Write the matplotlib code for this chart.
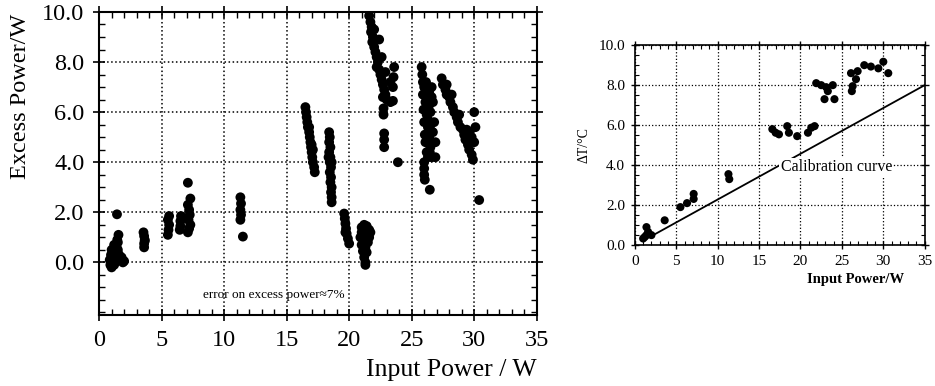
# -*- encoding: utf-8 -*-
import matplotlib
matplotlib.use('Agg')
import matplotlib.pyplot as plt
from matplotlib.ticker import MultipleLocator

plt.rcParams['font.family'] = ['Liberation Serif', 'DejaVu Serif']

# left panel: excess power vs input power (digitised clusters)
excess_x = [
    # ~1 W
    0.85, 0.9, 0.95, 1.0, 1.05, 1.1, 1.15, 1.2, 1.25, 1.3, 1.35, 1.4, 1.45, 1.5, 1.55, 1.6, 1.7, 1.8, 1.9, 2.0,
    1.0, 1.1, 1.3, 1.4, 1.5, 1.2, 1.43,
    # 3.6 W
    3.6, 3.6, 3.65, 3.6, 3.55, 3.65,
    # 5.5 / 6.5 / 7.2 W
    5.5, 5.55, 5.6, 5.5, 5.6,
    6.45, 6.5, 6.5, 6.55,
    7.1, 7.2, 7.3, 7.15, 7.25, 7.2, 7.1, 7.3, 7.1,
    # 11.3 W
    11.3, 11.35, 11.3, 11.35, 11.3, 11.5,
    # 16.5-17.3 W
    16.5, 16.55, 16.6, 16.65, 16.7, 16.8, 16.85, 16.9, 16.95, 17.0, 17.05, 17.1, 17.2, 17.25, 17.0, 17.1, 16.8,
    # 18.4 W
    18.4, 18.45, 18.4, 18.5, 18.4, 18.5, 18.45, 18.55, 18.45, 18.55, 18.5, 18.6, 18.55, 18.6, 18.6, 18.35, 18.6,
    # 19.6-20 W
    19.6, 19.65, 19.7, 19.75, 19.8, 19.9, 20.0, 19.7,
    # 21 W
    21.0, 21.2, 21.4, 21.6, 21.0, 21.3, 21.6, 20.9, 21.2, 21.5, 21.0, 21.3, 21.1, 21.4, 21.2, 21.3, 21.3, 21.7,
    # 21.6-23.6 W
    21.6, 21.7, 21.8, 21.75, 21.9, 21.85, 22.0, 22.1, 22.2, 22.3, 22.2, 22.4, 22.5, 22.6, 22.7, 22.8, 22.9, 23.0,
    22.7, 23.3, 23.5, 23.5, 23.55, 23.6, 23.3, 22.6, 22.4, 22.0, 22.9,
    22.75, 22.75, 22.8, 22.8, 22.8, 23.9,
    # 25.7-27 W
    25.8, 25.85, 25.9, 26.0, 25.9, 26.1, 25.95, 26.2, 26.0, 26.3, 26.05, 26.4, 26.1, 26.5, 26.2, 26.6, 26.9,
    26.4, 26.6, 26.7, 26.5, 26.8, 26.7, 26.9, 26.3, 26.0,
    26.2, 26.35, 26.3, 26.5, 26.45, 26.6, 26.25, 26.15,
    26.0, 26.0, 26.05, 26.45,
    # 27.4-30.4 W
    27.4, 27.5, 27.7, 27.8, 28.0, 28.1, 28.3, 28.4, 28.6, 28.7, 28.9, 29.1, 29.2, 29.3, 29.5, 29.6, 29.8, 29.9,
    29.6, 29.8, 30.1, 30.0, 29.4, 27.8, 28.2, 28.8, 30.0, 30.4,
]
excess_y = [
    0.1, -0.1, 0.3, -0.2, 0.2, 0.0, 0.4, -0.1, 0.5, 0.3, 0.7, 0.2, 0.9, 0.5, 1.1, 0.3, 0.1, 0.2, 0.0, 0.05,
    0.5, 0.2, 0.0, 0.6, 0.8, 0.7, 1.92,
    0.6, 0.75, 0.9, 1.05, 1.2, 0.85,
    1.1, 1.3, 1.5, 1.7, 1.85,
    1.3, 1.45, 1.65, 1.85,
    1.2, 1.35, 1.5, 1.7, 1.9, 2.1, 2.3, 2.55, 3.18,
    1.7, 1.9, 2.1, 2.35, 2.6, 1.03,
    6.2, 6.0, 5.8, 5.6, 5.4, 5.2, 5.0, 4.8, 4.6, 4.4, 4.2, 4.0, 3.8, 3.6, 4.7, 4.5, 5.4,
    5.2, 5.0, 4.8, 4.6, 4.4, 4.2, 4.0, 3.8, 3.6, 3.4, 3.2, 3.0, 2.8, 2.6, 2.4, 4.2, 4.0,
    1.95, 1.75, 1.55, 1.35, 1.15, 0.95, 0.75, 1.2,
    1.4, 1.5, 1.45, 1.3, 1.2, 1.2, 1.0, 1.0, 0.9, 0.8, 0.7, 0.6, 0.45, 0.4, 0.2, 0.0, -0.1, 1.2,
    9.85, 9.6, 9.4, 9.2, 9.0, 8.8, 8.6, 8.4, 8.2, 8.0, 7.8, 7.7, 7.5, 7.3, 7.1, 6.9, 6.7, 6.5,
    6.6, 6.4, 6.45, 7.0, 7.4, 7.8, 7.2, 8.2, 8.9, 9.3, 7.6,
    6.15, 5.9, 5.15, 4.9, 4.6, 4.0,
    7.8, 7.5, 7.2, 7.0, 6.7, 6.4, 6.1, 5.9, 5.6, 5.4, 5.1, 5.0, 4.8, 4.6, 4.4, 4.2, 4.2,
    6.8, 7.0, 6.4, 6.0, 5.6, 5.2, 4.8, 4.2, 4.0,
    6.6, 6.2, 5.7, 5.3, 4.4, 6.6, 4.9, 7.2,
    3.75, 3.5, 3.3, 2.9,
    7.35, 7.1, 6.9, 6.7, 6.6, 6.4, 6.2, 6.0, 5.8, 5.6, 5.4, 5.3, 5.1, 4.9, 4.7, 4.5, 4.3, 4.1,
    5.2, 5.0, 5.4, 4.8, 5.3, 7.1, 6.7, 5.9, 6.0, 2.49,
]

# right panel: temperature rise vs input power
dt_x = [1.0, 1.2, 1.4, 1.6, 1.4, 2.0, 3.6, 5.5, 6.3, 7.1, 7.1, 11.3, 11.4,
        16.6, 17.0, 17.4, 18.4, 18.6, 19.6, 20.9, 21.3, 21.7,
        21.9, 22.5, 23.1, 23.3, 22.9, 23.9, 24.1,
        26.1, 26.3, 26.7, 26.9, 26.2, 27.7, 28.5, 29.4, 30.0, 30.6]
dt_y = [0.33, 0.41, 0.5, 0.66, 0.9, 0.5, 1.24, 1.9, 2.1, 2.31, 2.56, 3.55, 3.3,
        5.8, 5.62, 5.54, 5.95, 5.62, 5.45, 5.62, 5.87, 5.95,
        8.1, 8.0, 7.9, 7.7, 7.3, 8.0, 7.3,
        8.6, 7.95, 8.3, 8.7, 7.7, 9.0, 8.93, 8.84, 9.17, 8.6]
calib_x = [2.0, 35.0]
calib_y = [0.45, 8.0]

fig = plt.figure(figsize=(9.35, 3.86), dpi=100)

# ---- left panel
ax1 = fig.add_axes([0.106, 0.184, 0.468, 0.785])
ax1.scatter(excess_x, excess_y, s=50, color='black', edgecolors='none', zorder=3)
ax1.set_xlim(0, 35)
ax1.set_ylim(-2.1, 10.0)
ax1.set_xticks([0, 5, 10, 15, 20, 25, 30, 35])
ax1.set_yticks([0, 2, 4, 6, 8, 10])
ax1.set_yticklabels(['0.0', '2.0', '4.0', '6.0', '8.0', '10.0'])
ax1.xaxis.set_minor_locator(MultipleLocator(1))
ax1.yaxis.set_minor_locator(MultipleLocator(0.5))
ax1.tick_params(which='major', direction='inout', length=9, width=1.2, top=True, right=True,
                labelsize=17.5, pad=6)
ax1.tick_params(which='minor', direction='in', length=4, width=1, top=True, right=True)
ax1.grid(True, which='major', linestyle=':', color='black', linewidth=1.1)
for s in ax1.spines.values():
    s.set_linewidth(1.5)
ax1.text(8.3, -1.3, 'error on excess power\u22487%', fontsize=9.5, ha='left', va='center')
ax1.set_xlabel('Input Power / W', fontsize=18.5, loc='right', labelpad=6)
fig.text(0.022, 0.75, 'Excess Power/W', rotation=90, fontsize=17.5, ha='center', va='center')

# ---- right panel
ax2 = fig.add_axes([0.679, 0.365, 0.31, 0.518])
ax2.scatter(dt_x, dt_y, s=34, color='black', edgecolors='none', zorder=3)
ax2.plot(calib_x, calib_y, color='black', linewidth=1.3, zorder=2)
ax2.set_xlim(0, 35)
ax2.set_ylim(0, 10)
ax2.set_xticks([0, 5, 10, 15, 20, 25, 30, 35])
ax2.set_yticks([0, 2, 4, 6, 8, 10])
ax2.set_yticklabels(['0.0', '2.0', '4.0', '6.0', '8.0', '10.0'])
ax2.xaxis.set_minor_locator(MultipleLocator(1))
ax2.yaxis.set_minor_locator(MultipleLocator(0.5))
ax2.tick_params(which='major', direction='inout', length=6, width=1, top=True, right=True,
                labelsize=11, pad=4)
ax2.tick_params(which='minor', direction='in', length=3, width=0.8, top=True, right=True)
ax2.grid(True, which='major', linestyle=':', color='black', linewidth=0.9)
for s in ax2.spines.values():
    s.set_linewidth(1.2)
ax2.text(17.6, 3.9, 'Calibration curve', fontsize=11.5, ha='left', va='center', zorder=4,
         bbox=dict(facecolor='white', edgecolor='none', pad=1.0))
ax2.set_xlabel('Input Power/W', fontsize=10.5, fontweight='bold', labelpad=6)
ax2.xaxis.set_label_coords(0.93, -0.14)
ax2.xaxis.label.set_horizontalalignment('right')
ax2.set_ylabel('\u0394T/\u00b0C', fontsize=10, labelpad=6)

plt.savefig('out.png', dpi=100)
